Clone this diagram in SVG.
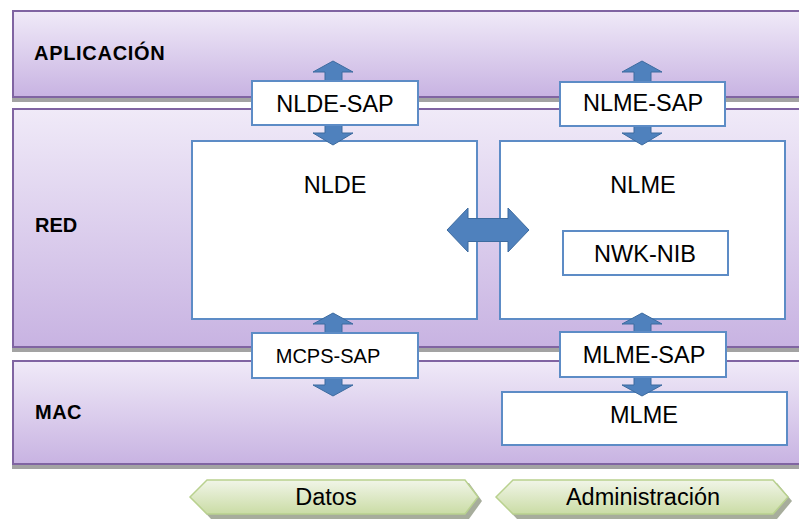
<svg xmlns="http://www.w3.org/2000/svg" width="799" height="522" viewBox="0 0 799 522">
<defs>
<linearGradient id="gLayer" x1="0" y1="0" x2="0" y2="1">
<stop offset="0" stop-color="#f0eaf8"/>
<stop offset="1" stop-color="#c8b3e2"/>
</linearGradient>
<linearGradient id="gGreen" x1="0" y1="0" x2="0" y2="1">
<stop offset="0" stop-color="#f1f5e8"/>
<stop offset="1" stop-color="#cadca5"/>
</linearGradient>
<style>
.layer{fill:url(#gLayer);stroke:#8064a2;stroke-width:2}
.shadow{fill:#a3a3a3}
.box{fill:#ffffff;stroke:#5d8cc6;stroke-width:2}
.arrow{fill:#4f81bd;stroke:#3d6b9f;stroke-width:1}
.chev{fill:url(#gGreen);stroke:#b9d18f;stroke-width:1.5}
.chevsh{fill:#a7ad9c}
.lbl{font-family:"Liberation Sans",Arial,sans-serif;font-weight:bold;font-size:20px;fill:#000}
.t{font-family:"Liberation Sans",Arial,sans-serif;font-size:23.5px;fill:#000;text-anchor:middle}
</style>
</defs>
<rect width="799" height="522" fill="#ffffff"/>

<g id="layer-aplicacion">
<rect class="shadow" x="12" y="97" width="800" height="5"/>
<rect class="layer" x="13" y="11" width="800" height="86"/>
<text class="lbl" x="34" y="60" letter-spacing="0.7">APLICACIÓN</text>
</g>
<g id="layer-red">
<rect class="shadow" x="12" y="347" width="800" height="5"/>
<rect class="layer" x="13" y="109" width="800" height="238"/>
<text class="lbl" x="35" y="232">RED</text>
</g>
<g id="layer-mac">
<rect class="shadow" x="12" y="464" width="800" height="5"/>
<rect class="layer" x="13" y="361" width="800" height="103"/>
<text class="lbl" x="35" y="419" letter-spacing="0.5">MAC</text>
</g>

<g id="nlde">
<rect class="box" x="192" y="141" width="285" height="178"/>
<text class="t" x="335" y="193">NLDE</text>
</g>
<g id="nlme">
<rect class="box" x="500" y="141" width="285" height="178"/>
<text class="t" x="643" y="193">NLME</text>
</g>
<g id="mlme">
<rect class="box" x="502" y="392" width="285" height="53"/>
<text class="t" x="644" y="423">MLME</text>
</g>

<g id="connectors">
<!-- NLDE-SAP double arrow -->
<path class="arrow" d="M333,61 L353,72 L342,72 L342,133 L353,133 L333,145 L313,133 L325,133 L325,72 L313,72 Z"/>
<!-- NLME-SAP double arrow -->
<path class="arrow" d="M642,61 L662,72 L651,72 L651,133 L662,133 L642,145 L622,133 L634,133 L634,72 L622,72 Z"/>
<!-- MCPS-SAP double arrow -->
<path class="arrow" d="M333,313 L353,324 L342,324 L342,385 L353,385 L333,396 L313,385 L325,385 L325,324 L313,324 Z"/>
<!-- MLME-SAP double arrow -->
<path class="arrow" d="M642,313 L662,324 L651,324 L651,385 L662,385 L642,396 L622,385 L634,385 L634,324 L622,324 Z"/>
<!-- NLDE <-> NLME -->
<path class="arrow" d="M447,230 L468,208 L468,218.5 L508,218.5 L508,208 L529,230 L508,252 L508,241.5 L468,241.5 L468,252 Z"/>
</g>

<g id="nlde-sap">
<rect class="box" x="252" y="81" width="166" height="44"/>
<text class="t" x="335" y="112">NLDE-SAP</text>
</g>
<g id="nlme-sap">
<rect class="box" x="560" y="82" width="165" height="44"/>
<text class="t" x="643" y="111">NLME-SAP</text>
</g>
<g id="mcps-sap">
<rect class="box" x="252" y="333" width="166" height="45"/>
<text class="t" x="328" y="363" style="font-size:20px">MCPS-SAP</text>
</g>
<g id="mlme-sap">
<rect class="box" x="560" y="332" width="166" height="45"/>
<text class="t" x="644" y="363">MLME-SAP</text>
</g>
<g id="nwk-nib">
<rect class="box" x="563" y="231" width="165" height="44"/>
<text class="t" x="645" y="262">NWK-NIB</text>
</g>

<g id="datos">
<path class="chevsh" d="M194,501 L211,483 L469,483 L482,501 L469,519 L211,519 Z"/>
<path class="chev" d="M190,497 L207,480 L465,480 L478,497 L465,514 L207,514 Z"/>
<text class="t" x="326" y="505">Datos</text>
</g>
<g id="administracion">
<path class="chevsh" d="M500,501 L517,483 L777,483 L792,501 L777,519 L517,519 Z"/>
<path class="chev" d="M496,497 L513,480 L773,480 L788,497 L773,514 L513,514 Z"/>
<text class="t" x="643" y="505">Administración</text>
</g>
</svg>
